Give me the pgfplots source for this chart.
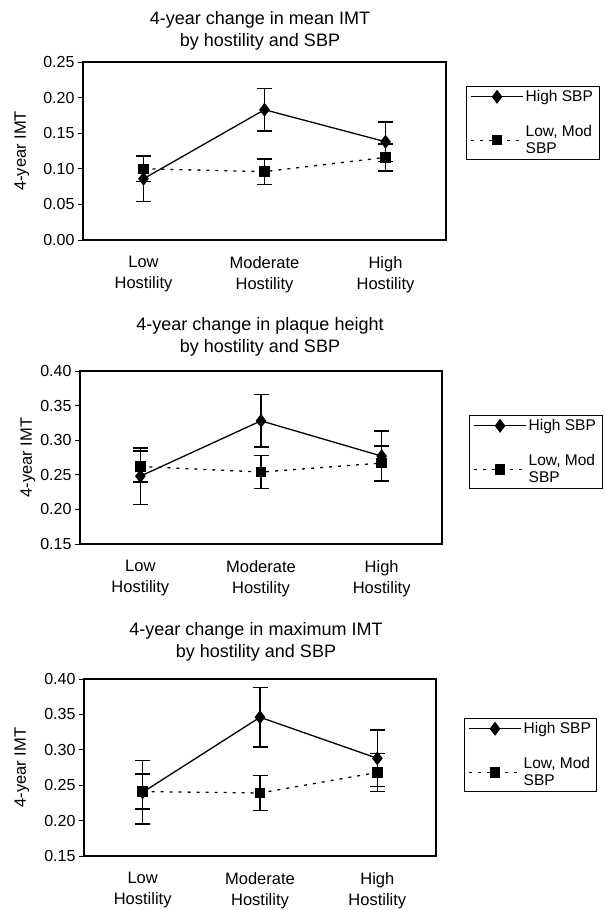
\documentclass[border=0pt]{standalone}
\usepackage{pgfplots}
\pgfplotsset{compat=1.18}
\usepackage{fontspec}
\setmainfont{Liberation Sans}
\pgfplotsset{
  myax/.style={
    scale only axis,
    xmin=-0.5, xmax=2.5,
    xtick={0,1,2},
    xticklabels={{Low\\Hostility},{Moderate\\Hostility},{High\\Hostility}},
    xticklabel style={align=center, font=\fontsize{16.5}{21}\selectfont, yshift=-8pt},
    x tick style={draw=none},
    ytick pos=left,
    tick align=outside,
    major tick length=5pt,
    ytick style={black, line width=0.8pt},
    axis line style={line width=1.2pt},
    /pgf/number format/assume math mode=true,
    yticklabel style={font=\fontsize{16}{18}\selectfont, /pgf/number format/.cd, fixed, fixed zerofill, precision=2},
    ylabel={4-year IMT},
    legend style={draw=black, line width=0.8pt, anchor=north west,
      font=\fontsize{15.5}{17.5}\selectfont,
      cells={anchor=west, align=left},
      inner xsep=4pt, inner ysep=2pt, row sep=18pt},
    legend image code/.code={\draw[mark repeat=2,mark phase=2,#1] plot coordinates {(0pt,0pt) (26pt,0pt) (52pt,0pt)};},
    error bars/y dir=both, error bars/y explicit,
    error bars/error bar style={solid, line width=1.6pt},
    error bars/error mark options={solid, rotate=90, mark size=7.5pt, line width=1.6pt},
  },
  ylab/.style={every axis y label/.style={at={(axis description cs:0,0.5)}, rotate=90, anchor=center,
      font=\fontsize{16.5}{18}\selectfont, yshift=#1}},
  hi/.style={black, line width=1.3pt, mark=diamond*, mark size=6pt, mark options={solid}},
  lo/.style={black, line width=1.3pt, dash pattern=on 3pt off 6pt, mark=square*, mark size=4.6pt, mark options={solid}},
}
\begin{document}
\begin{tikzpicture}
\path[use as bounding box] (0pt,0pt) rectangle (605pt,-910pt);
% ---------- Plot 1 ----------
\node[align=center, font=\fontsize{18}{22}\selectfont] at (260pt,-31pt) {4-year change in mean IMT\\by hostility and SBP};
\begin{axis}[myax, ylab=61pt, at={(83pt,-240pt)}, anchor=south west, width=363pt, height=178pt,
  ymin=0, ymax=0.25, ytick={0,0.05,...,0.25},
  legend style={at={(1.0551,0.8652)}}]
\addplot[hi] coordinates {(0,0.086) +- (0,0.032) (1,0.183) +- (0,0.030) (2,0.138) +- (0,0.028)};
\addlegendentry{High SBP}
\addplot[lo] coordinates {(0,0.100) +- (0,0.018) (1,0.096) +- (0,0.018) (2,0.116) +- (0,0.019)};
\addlegendentry{Low, Mod\\SBP}
\end{axis}
% ---------- Plot 2 ----------
\node[align=center, font=\fontsize{18}{22}\selectfont] at (260pt,-336.5pt) {4-year change in plaque height\\by hostility and SBP};
\begin{axis}[myax, ylab=52pt, at={(80pt,-544pt)}, anchor=south west, width=362pt, height=173pt,
  ymin=0.15, ymax=0.40, ytick={0.15,0.20,...,0.41},
  legend style={at={(1.0746,0.7457)}}]
\addplot[hi] coordinates {(0,0.248) +- (0,0.041) (1,0.328) +- (0,0.038) (2,0.277) +- (0,0.036)};
\addlegendentry{High SBP}
\addplot[lo] coordinates {(0,0.262) +- (0,0.022) (1,0.254) +- (0,0.024) (2,0.267) +- (0,0.025)};
\addlegendentry{Low, Mod\\SBP}
\end{axis}
% ---------- Plot 3 ----------
\node[align=center, font=\fontsize{18}{22}\selectfont] at (256pt,-641.5pt) {4-year change in maximum IMT\\by hostility and SBP};
\begin{axis}[myax, ylab=62pt, at={(84pt,-856pt)}, anchor=south west, width=352pt, height=177pt,
  ymin=0.15, ymax=0.40, ytick={0.15,0.20,...,0.41},
  legend style={at={(1.0795,0.7797)}}]
\addplot[hi] coordinates {(0,0.240) +- (0,0.045) (1,0.346) +- (0,0.042) (2,0.288) +- (0,0.040)};
\addlegendentry{High SBP}
\addplot[lo] coordinates {(0,0.241) +- (0,0.025) (1,0.239) +- (0,0.025) (2,0.268) +- (0,0.027)};
\addlegendentry{Low, Mod\\SBP}
\end{axis}
\end{tikzpicture}
\end{document}
